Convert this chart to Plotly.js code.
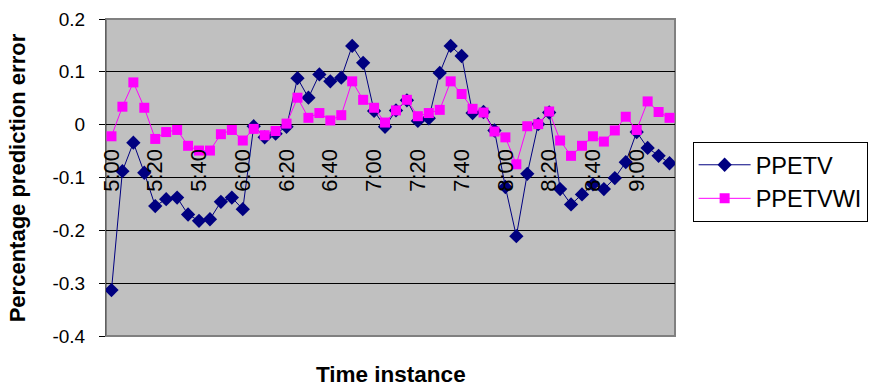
<!DOCTYPE html>
<html>
<head>
<meta charset="utf-8">
<script src="https://cdn.plot.ly/plotly-3.0.1.min.js"></script>
<style>html,body{margin:0;padding:0;background:#fff}#chart{width:874px;height:388px}</style>
</head>
<body>
<div id="chart"></div>
<script>
var categories = ['5:00','5:05','5:10','5:15','5:20','5:25','5:30','5:35','5:40','5:45','5:50','5:55',
  '6:00','6:05','6:10','6:15','6:20','6:25','6:30','6:35','6:40','6:45','6:50','6:55',
  '7:00','7:05','7:10','7:15','7:20','7:25','7:30','7:35','7:40','7:45','7:50','7:55',
  '8:00','8:05','8:10','8:15','8:20','8:25','8:30','8:35','8:40','8:45','8:50','8:55',
  '9:00','9:05','9:10','9:15'];
var xTickLabels = ['5:00','5:20','5:40','6:00','6:20','6:40','7:00','7:20','7:40','8:00','8:20','8:40','9:00'];
var ppetv = [-0.313,-0.088,-0.034,-0.091,-0.154,-0.141,-0.138,-0.170,-0.182,-0.179,-0.146,-0.138,
  -0.160,-0.003,-0.024,-0.017,-0.004,0.088,0.051,0.095,0.082,0.089,0.149,0.117,
  0.026,-0.004,0.027,0.046,0.007,0.012,0.098,0.149,0.130,0.022,0.024,-0.011,
  -0.118,-0.211,-0.093,0.001,0.023,-0.122,-0.151,-0.132,-0.113,-0.122,-0.101,-0.071,
  -0.014,-0.044,-0.059,-0.073];
var ppetvwi = [-0.022,0.034,0.080,0.032,-0.027,-0.014,-0.010,-0.040,-0.049,-0.049,-0.018,-0.010,
  -0.030,-0.008,-0.020,-0.012,0.002,0.051,0.013,0.022,0.008,0.018,0.082,0.047,
  0.032,0.004,0.027,0.047,0.016,0.022,0.028,0.082,0.058,0.030,0.023,-0.013,
  -0.024,-0.075,-0.003,0.001,0.025,-0.030,-0.059,-0.040,-0.022,-0.032,-0.011,0.015,
  -0.010,0.044,0.024,0.013];
var yTickVals = [-0.4,-0.3,-0.2,-0.1,0,0.1,0.2];
var yTickText = ['-0.4','-0.3','-0.2','-0.1','0','0.1','0.2'];

var FONT = 'Liberation Sans, Arial, sans-serif';

var traces = [
  {x: categories, y: ppetv, name: 'PPETV', type: 'scatter', mode: 'lines+markers',
   line: {color: '#000080', width: 1}, marker: {symbol: 'diamond', size: 11, color: '#000080'}},
  {x: categories, y: ppetvwi, name: 'PPETVWI', type: 'scatter', mode: 'lines+markers',
   line: {color: '#FF00FF', width: 1}, marker: {symbol: 'square', size: 10, color: '#FF00FF'}}
];

var layout = {
  width: 874, height: 388,
  margin: {l: 106, r: 199, t: 19, b: 52, pad: 0, autoexpand: false},
  paper_bgcolor: '#ffffff',
  plot_bgcolor: '#C0C0C0',
  font: {family: FONT, color: '#000', size: 19},
  showlegend: true,
  legend: {x: 1.031, y: 0.612, xanchor: 'left', yanchor: 'top',
    bgcolor: '#ffffff', bordercolor: '#000', borderwidth: 1,
    font: {family: FONT, size: 23.5, color: '#000'}, itemwidth: 52, tracegroupgap: 0},
  xaxis: {
    type: 'category', range: [-0.5, 51.5],
    tickvals: xTickLabels, ticktext: xTickLabels,
    tickangle: -90, ticks: '', showgrid: false, zeroline: false,
    showline: false, anchor: 'free', position: 0.607,
    tickfont: {family: FONT, size: 22, color: '#000'}
  },
  xaxis2: {
    type: 'linear', range: [-0.5, 51.5], overlaying: 'x',
    anchor: 'free', position: 2/3, tick0: -0.5, dtick: 1,
    ticks: 'outside', ticklen: 6, tickcolor: '#000', tickwidth: 1,
    showticklabels: false, showgrid: false, zeroline: false, showline: false
  },
  yaxis: {
    range: [-0.4, 0.2], tickvals: yTickVals, ticktext: yTickText,
    ticks: 'outside', ticklen: 6, tickcolor: '#000',
    showgrid: true, gridcolor: '#000', gridwidth: 1,
    zeroline: true, zerolinecolor: '#000', zerolinewidth: 1,
    showline: true, linecolor: '#606060', linewidth: 1,
    ticklabelstandoff: 10,
    tickfont: {family: FONT, size: 19, color: '#000'}
  },
  shapes: [
    {type: 'rect', xref: 'paper', yref: 'paper', x0: 0, x1: 1, y0: 0, y1: 1,
     line: {color: '#808080', width: 2}, fillcolor: 'rgba(0,0,0,0)', layer: 'below'}
  ],
  annotations: [
    {text: '<b>Time instance</b>', xref: 'paper', yref: 'paper', x: 0.5, y: -0.123,
     xanchor: 'center', yanchor: 'middle', showarrow: false,
     font: {family: FONT, size: 22.5, color: '#000'}},
    {text: '<b>Percentage prediction error</b>', xref: 'paper', yref: 'paper', x: -0.155, y: 0.5,
     xanchor: 'center', yanchor: 'middle', textangle: -90, showarrow: false,
     font: {family: FONT, size: 22, color: '#000'}}
  ]
};

Plotly.newPlot('chart', traces, layout, {displayModeBar: false, staticPlot: true});
</script>
</body>
</html>
